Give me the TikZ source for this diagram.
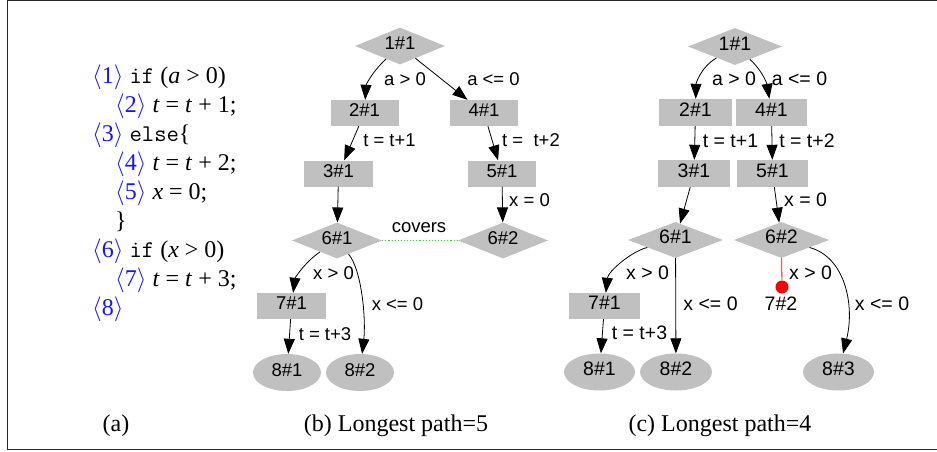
\documentclass[tikz,border=0pt]{standalone}
\usepackage{fontspec}
\setmainfont{Liberation Serif}
\newfontfamily\gvfont{Liberation Sans}
\usetikzlibrary{shapes.geometric,arrows.meta}
\definecolor{gvgray}{RGB}{192,192,192}
\definecolor{gvgreen}{RGB}{40,235,40}
\definecolor{lnblue}{RGB}{20,20,255}
\newcommand{\lnum}[1]{\textcolor{lnblue}{$\langle$#1$\rangle$}}
\begin{document}
\begin{tikzpicture}[x=1pt,y=-1pt,
  gv/.style={font=\gvfont\fontsize{#1}{#1}\selectfont, text height=0.72em, text depth=0pt, inner sep=0pt},
  dia/.style={gv=#1, diamond, shape aspect=2.4, fill=gvgray},
  box/.style={gv=#1, rectangle, fill=gvgray},
  term/.style={gv=#1, ellipse, fill=gvgray},
  arr/.style={draw=black, line width=0.8pt, -{Triangle[length=15pt,width=11pt]}},
  code/.style={font=\fontsize{24}{28}\selectfont, anchor=base west, inner sep=0pt},
  captext/.style={font=\fontsize{24}{28}\selectfont, anchor=base, inner sep=0pt},
  frame/.style={draw=black!85, line width=1pt}]
\useasboundingbox (0,0) rectangle (937,452);
\draw[frame] (937,0.5) -- (7,0.5) -- (7,449.5) -- (937,449.5);

% ---- (a) source listing ----
\node[code] (l1) at (92,83)  {\lnum{1} \texttt{if} (\textit{a} > 0)};
\node[code] (l2) at (115,112) {\lnum{2} \textit{t} = \textit{t} + 1;};
\node[code] (l3) at (92,141) {\lnum{3} \texttt{else}\{};
\node[code] (l4) at (115,170) {\lnum{4} \textit{t} = \textit{t} + 2;};
\node[code] (l5) at (115,199) {\lnum{5} \textit{x} = 0;};
\node[code] (l6) at (115,228) {\}};
\node[code] (l7) at (92,257) {\lnum{6} \texttt{if} (\textit{x} > 0)};
\node[code] (l8) at (115,286) {\lnum{7} \textit{t} = \textit{t} + 3;};
\node[code] (l9) at (92,315) {\lnum{8}};

% ---- (b) execution tree ----
\begin{scope}[every node/.append style={minimum height=26pt}]
\node[dia=18.5, minimum width=90pt, minimum height=37pt] (b1) at (400,46) {1\#1};
\node[box=18.5, minimum width=68pt] (b2) at (364.5,113) {2\#1};
\node[box=18.5, minimum width=68pt] (b4) at (484,113) {4\#1};
\node[box=18.5, minimum width=69pt] (b3) at (338.5,173.5) {3\#1};
\node[box=18.5, minimum width=68pt] (b5) at (502,173.5) {5\#1};
\node[dia=18.5, minimum width=90pt, minimum height=36pt] (b6) at (337,240.5) {6\#1};
\node[dia=18.5, minimum width=90pt, minimum height=36pt] (b62) at (503,240.5) {6\#2};
\node[box=18.5, minimum width=69pt] (b7) at (291.5,306) {7\#1};
\node[term=18.5, minimum width=68pt, minimum height=37pt] (b81) at (287,372.5) {8\#1};
\node[term=18.5, minimum width=68pt, minimum height=37pt] (b82) at (360,372.5) {8\#2};
\end{scope}

\draw[arr] (b1) .. controls (372,72) and (366,85) .. (b2);
\draw[arr] (b1) -- (b4);
\draw[arr] (b2) -- (b3);
\draw[arr] (b4) -- (b5);
\draw[arr] (b3) -- (b6);
\draw[arr] (b5) -- (b62);
\draw[arr] (b6) .. controls (305,262) and (295,278) .. (b7);
\draw[arr] (b6) .. controls (362,270) and (366,320) .. (b82);
\draw[arr] (b7) -- (b81);
\draw[gvgreen, dotted, line width=1.1pt] (b6) -- (b62);

\node[gv=18.5] (bl1) at (405,82) {a > 0};
\node[gv=18.5] (bl2) at (493.5,82) {a <= 0};
\node[gv=18.5] (bl3) at (389.5,143) {t = t+1};
\node[gv=18.5] (bl4) at (531,143) {t =~ t+2};
\node[gv=18.5] (bl5) at (529.5,203) {x = 0};
\node[gv=18.5] (bl6) at (419,229) {covers};
\node[gv=18.5] (bl7) at (333.5,276) {x > 0};
\node[gv=18.5] (bl8) at (397.5,307) {x <= 0};
\node[gv=18.5] (bl9) at (325,337) {t = t+3};

% ---- (c) execution tree ----
\node[dia=19.5, minimum width=94pt, minimum height=37pt] (c1) at (735,46.5) {1\#1};
\node[box=19.5, minimum width=73pt, minimum height=27pt] (c2) at (695.5,112.5) {2\#1};
\node[box=19.5, minimum width=71pt, minimum height=27pt] (c4) at (771.5,112.5) {4\#1};
\node[box=19.5, minimum width=72pt, minimum height=27pt] (c3) at (694,173.5) {3\#1};
\node[box=19.5, minimum width=71pt, minimum height=27pt] (c5) at (772.5,173.5) {5\#1};
\node[dia=19.5, minimum width=95pt, minimum height=36pt] (c6) at (675.5,240) {6\#1};
\node[dia=19.5, minimum width=95pt, minimum height=36pt] (c62) at (781.5,240) {6\#2};
\node[box=19.5, minimum width=71pt, minimum height=26pt] (c7) at (604.5,306) {7\#1};
\node[circle, fill=red, inner sep=0pt, minimum size=13pt] (c72) at (782,287) {};
\node[term=19.5, minimum width=71pt, minimum height=37pt] (c81) at (599.5,372) {8\#1};
\node[term=19.5, minimum width=72pt, minimum height=37pt] (c82) at (676,372) {8\#2};
\node[term=19.5, minimum width=71pt, minimum height=37pt] (c83) at (838.5,372) {8\#3};

\draw[arr] (c1) .. controls (700,68) and (696,84) .. (c2);
\draw[arr] (c1) .. controls (762,70) and (767,84) .. (c4);
\draw[arr] (c2) -- (c3);
\draw[arr] (c4) -- (c5);
\draw[arr] (c3) -- (c6);
\draw[arr] (c5) -- (c62);
\draw[arr] (c6) .. controls (630,252) and (608,272) .. (c7);
\draw[arr] (c6) -- (c82);
\draw[arr] (c7) -- (c81);
\draw[red, line width=0.8pt] (c62) -- (c72);
\draw[arr] (c62) .. controls (845,257) and (855,305) .. (c83);

\node[gv=19.5] (cl1) at (734,82) {a > 0};
\node[gv=19.5] (cl2) at (799.5,82) {a <= 0};
\node[gv=19.5] (cl3) at (730.5,144) {t = t+1};
\node[gv=19.5] (cl4) at (807,144) {t = t+2};
\node[gv=19.5] (cl5) at (805.5,203) {x = 0};
\node[gv=19.5] (cl6) at (647.5,276) {x > 0};
\node[gv=19.5] (cl7) at (710.5,307) {x <= 0};
\node[gv=19.5] (cl8) at (639.5,336) {t = t+3};
\node[gv=19.5] (cl9) at (810.5,276) {x > 0};
\node[gv=19.5] (cl10) at (882,307) {x <= 0};
\node[gv=19.5] (cl11) at (781,307) {7\#2};

% ---- captions ----
\node[captext] (ca) at (116,431) {(a)};
\node[captext] (cb) at (396,431) {(b) Longest path=5};
\node[captext] (cc) at (720,431) {(c) Longest path=4};
\end{tikzpicture}
\end{document}
